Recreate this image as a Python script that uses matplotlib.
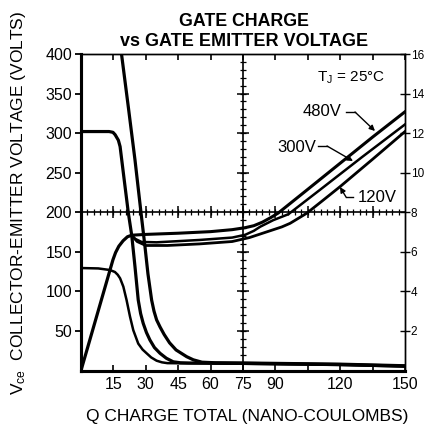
import numpy as np
import matplotlib
matplotlib.use("Agg")
import matplotlib.pyplot as plt

plt.rcParams['font.family'] = ['Liberation Sans', 'DejaVu Sans']
plt.rcParams['mathtext.fontset'] = 'custom'
plt.rcParams['mathtext.rm'] = 'Liberation Sans'
plt.rcParams['mathtext.it'] = 'Liberation Sans'

# ---------------- data ----------------
# Collector-emitter voltage curves (left axis, volts) vs gate charge (nC)
vce480_q = [0, 12, 14, 15.5, 18.8, 22, 25, 27.8, 29.6, 31, 32.7, 33.8, 35, 36.6, 38.5, 41, 44, 48.9, 52, 56, 62, 75, 90, 105, 120, 135, 150]
vce480_v = [482, 482, 479, 466, 399, 331, 266, 199, 157, 122, 89, 75, 64, 55, 45.5, 35, 26, 17.5, 13.5, 10.5, 9.8, 9.5, 9, 8.5, 8, 7, 6]

vce300_q = [0, 13, 14.8, 15.8, 17.3, 18.1, 20, 21.9, 23.5, 25, 26.5, 27.6, 28.8, 30.3, 31.9, 34, 36.6, 39.5, 42.7, 46, 50, 60, 75, 90, 105, 120, 135, 150]
vce300_v = [302, 302, 301, 298, 291, 283, 241, 199.5, 170.5, 131, 89, 72, 59.6, 48, 38.6, 29, 21.7, 15.5, 11, 9.8, 9.5, 9.3, 9, 8.5, 8, 7.5, 6.5, 5.5]

vce120_q = [0, 8, 13.4, 15.7, 17, 18.1, 19.6, 21.1, 22.7, 24.2, 26.5, 28.5, 30.4, 32.5, 35, 37.5, 40, 50, 75, 90, 105, 120, 135, 150]
vce120_v = [129.5, 129, 127, 124.5, 121, 116.5, 106, 89, 68, 51, 34, 26.5, 21.7, 16.5, 12.4, 10.3, 9.3, 9, 8.5, 8, 7.5, 7, 6, 5]

# Gate-emitter voltage curves (right axis, volts)
gate_rise_q = [0, 14.8, 16, 17.5, 19.5, 21.5, 23.5]
gate_rise_v = [0, 5.6, 5.96, 6.28, 6.56, 6.76, 6.84]

gate480_q = [23.5, 30, 45, 60, 70, 76, 80, 84, 88, 91.3, 105, 120, 135, 150]
gate480_v = [6.84, 6.88, 6.94, 7.02, 7.12, 7.22, 7.32, 7.5, 7.74, 7.96, 9.16, 10.48, 11.8, 13.08]

gate300_q = [23.5, 25, 28, 35, 55, 70, 76, 80, 83, 89, 96, 110, 130, 150]
gate300_v = [6.84, 6.66, 6.5, 6.48, 6.6, 6.72, 6.86, 7.06, 7.27, 7.6, 7.9, 9.08, 10.78, 12.44]

gate120_q = [23.5, 26, 30, 40, 55, 70, 78, 83, 88, 93, 96.8, 104.5, 112, 120, 135, 150]
gate120_v = [6.82, 6.52, 6.32, 6.32, 6.4, 6.52, 6.72, 6.9, 7.08, 7.26, 7.44, 7.95, 8.6, 9.3, 10.68, 12.08]

x_ticks = [15, 30, 45, 60, 75, 90, 105, 120, 135, 150]
x_tick_labels = ['15', '30', '45', '60', '75', '90', '', '120', '', '150']
y_ticks = [50, 100, 150, 200, 250, 300, 350, 400]
y2_ticks = [2, 4, 6, 8, 10, 12, 14, 16]

# ---------------- figure ----------------
W, H = 424, 428
fig = plt.figure(figsize=(W / 100, H / 100), dpi=100)
L, R, T, B = 81, 405, 54, 370.5
ax = fig.add_axes([L / W, 1 - B / H, (R - L) / W, (B - T) / H])
ax.set_xlim(0, 150)
ax.set_ylim(0, 400)

def px2data(px, py):
    return (px - L) / (R - L) * 150, (B - py) / (B - T) * 400

# centre cross lines with their own ticks
ax.axvline(75, color='k', lw=1.2, zorder=1)
ax.axhline(200, color='k', lw=1.2, zorder=1)
qm = np.arange(3, 150, 3)
ax.plot(qm, np.full(len(qm), 200), ls='none', marker='|', ms=4, mew=0.9, color='k', zorder=1)
qM = np.arange(15, 150, 15)
ax.plot(qM, np.full(len(qM), 200), ls='none', marker='|', ms=8, mew=1.1, color='k', zorder=1)
vm = np.arange(10, 400, 10)
ax.plot(np.full(len(vm), 75), vm, ls='none', marker='_', ms=4.5, mew=0.9, color='k', zorder=1)
vM = np.arange(50, 400, 50)
ax.plot(np.full(len(vM), 75), vM, ls='none', marker='_', ms=9, mew=1.1, color='k', zorder=1)

# Vce curves
ax.plot(vce480_q, vce480_v, color='k', lw=2.3, solid_capstyle='butt')
ax.plot(vce300_q, vce300_v, color='k', lw=2.3, solid_capstyle='butt')
ax.plot(vce120_q, vce120_v, color='k', lw=1.8, solid_capstyle='butt')

# gate curves on right axis
ax2 = ax.twinx()
ax2.set_ylim(0, 16)
ax2.plot(gate_rise_q, gate_rise_v, color='k', lw=2.3)
ax2.plot(gate480_q, gate480_v, color='k', lw=2.2)
ax2.plot(gate300_q, gate300_v, color='k', lw=1.8)
ax2.plot(gate120_q, gate120_v, color='k', lw=2.0)

# ticks
ax.set_xticks(x_ticks)
ax.set_xticklabels(x_tick_labels)
ax.tick_params(axis='x', direction='in', top=True, length=4, width=1.2, pad=5, labelsize=11.5)
ax.set_yticks(y_ticks)
ax.tick_params(axis='y', direction='out', length=4.3, width=1.3, pad=2, labelsize=11.5)
ax2.set_yticks(y2_ticks)
ax2.set_yticklabels([str(v) for v in y2_ticks])
ax2.tick_params(axis='y', direction='inout', length=7, width=1.0, pad=0.5, labelsize=8.5)

for a in (ax, ax2):
    a.spines['left'].set_linewidth(2.2)
    a.spines['bottom'].set_linewidth(2.2)
    a.spines['top'].set_linewidth(1.0)
    a.spines['right'].set_linewidth(1.0)

# annotations
tq, tv = px2data(351, 78)
ax.text(tq, tv, r'T$_{\mathrm{J}}$ = 25°C', fontsize=11, ha='center', va='center')

def label(txt, tpx, dash, tip):
    x, y = px2data(*tpx)
    ax.text(x, y, txt, fontsize=12, ha='center', va='center')
    d0 = px2data(*dash[0]); d1 = px2data(*dash[1]); tp = px2data(*tip)
    ax.plot([d0[0], d1[0]], [d0[1], d1[1]], color='k', lw=1.0)
    ax.annotate('', xy=tp, xytext=d1,
                arrowprops=dict(arrowstyle='-|>', color='k', lw=1.0, mutation_scale=8,
                                shrinkA=0, shrinkB=0))

label('480V', (322, 111), [(346, 112), (355, 112)], (375, 131))
label('300V', (297, 147), [(318, 146), (327, 146)], (353, 161))
label('120V', (377, 197), [(353, 197), (346, 197)], (340, 187))

# titles and axis labels
fig.text(244 / W, 1 - 21 / H, 'GATE CHARGE', fontsize=12.8, fontweight='bold', ha='center', va='center')
fig.text(244 / W, 1 - 42 / H, 'vs GATE EMITTER VOLTAGE', fontsize=13, fontweight='bold', ha='center', va='center')
fig.text(247 / W, 1 - 416 / H, 'Q CHARGE TOTAL (NANO-COULOMBS)', fontsize=12.5, ha='center', va='center')
fig.text(18.5 / W, 1 - 203 / H, r'V$_{\mathrm{ce}}$  COLLECTOR-EMITTER VOLTAGE (VOLTS)', fontsize=12.5,
         rotation=90, ha='center', va='center')

fig.savefig('out.png', dpi=100)
